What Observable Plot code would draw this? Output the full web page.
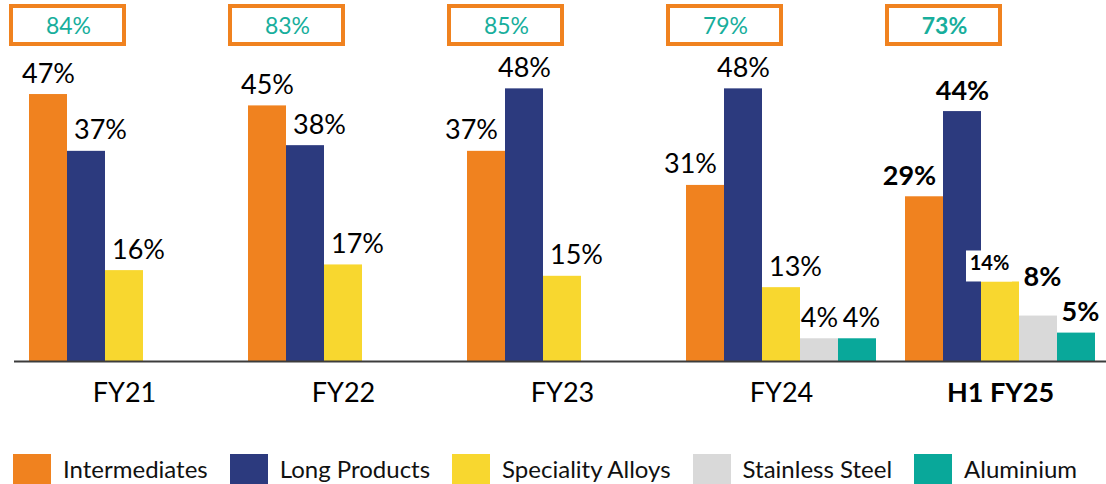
<!DOCTYPE html>
<html>
<head>
<meta charset="utf-8">
<script src="https://cdn.jsdelivr.net/npm/d3@7"></script>
<script src="https://cdn.jsdelivr.net/npm/@observablehq/plot@0.6"></script>
<style>
  body { margin: 0; background: #fff; font-family: Lato, sans-serif; }
  #legend { display: flex; align-items: center; margin: 34px 0 0 13px; font-size: 24px; line-height: 30px; color: #111; white-space: nowrap; }
  #legend .item { display: flex; align-items: center; margin-right: 22px; flex: none; }
  #legend .swatch { width: 38px; height: 30px; margin-right: 12px; flex: none; }
</style>
</head>
<body>
<div id="chart"></div>
<div id="legend"></div>
<script>
// Product mix by period (% of volume)
const groups = ["FY21", "FY22", "FY23", "FY24", "H1 FY25"];
const series = ["Intermediates", "Long Products", "Speciality Alloys", "Stainless Steel", "Aluminium"];
const intermediates    = [47, 45, 37, 31, 29];
const longProducts     = [37, 38, 48, 48, 44];
const specialityAlloys = [16, 17, 15, 13, 14];
const stainlessSteel   = [null, null, null, 4, 8];
const aluminium        = [null, null, null, 4, 5];
// share shown in the boxed callout above each period
const valueAddedShare  = [84, 83, 85, 79, 73];
const colors = ["#F0821F", "#2C3A7E", "#F8D72F", "#D9D9D9", "#09A89A"];
const highlight = "H1 FY25";

const seriesValues = [intermediates, longProducts, specialityAlloys, stainlessSteel, aluminium];
const rows = [];
series.forEach((s, i) => groups.forEach((g, j) => {
  const v = seriesValues[i][j];
  if (v != null) rows.push({group: g, series: s, value: v, index: i, period: j});
}));
const boxes = groups.map((g, j) => ({group: g, share: valueAddedShare[j]}));

const barW = 38;
const marks = [];

// bars, one mark per series, offset inside the period band
series.forEach((s, i) => {
  marks.push(Plot.barY(rows.filter(d => d.series === s), {
    x: "group", y: "value", fill: "series",
    insetLeft: i * barW, insetRight: (series.length - 1 - i) * barW
  }));
});

// label placement: nudge a label sideways when a neighbouring bar is taller
function labelStyle(d) {
  const i = d.index, j = d.period;
  const prev = i > 0 ? seriesValues[i - 1][j] : null;
  const next = i < series.length - 1 ? seriesValues[i + 1][j] : null;
  const bold = d.group === highlight;
  let shift = 0, dy = -12, size = 27, boxed = false;
  if (i === 0 && next != null && next > d.value) shift = -15;
  else if ((i === 1 || i === 2) && prev != null && prev > d.value) shift = 14;
  else if (i === 3) shift = bold ? 4 : 0;
  else if (i === 4) shift = 4;
  if (bold && i === 2) { shift = -11; size = 20; boxed = true; }
  if (bold && i === 3) dy = -30;
  return {dx: (i - 2) * barW + shift, dy, size, bold, boxed};
}
const labelled = rows.map(d => ({...d, style: labelStyle(d)}));
const styleGroups = d3.groups(labelled, d => JSON.stringify(d.style));

// white backing behind the boxed label
labelled.filter(d => d.style.boxed).forEach(d => {
  marks.push(Plot.barY([d], {
    x: "group", y1: "value", y2: "value", fill: "#fff",
    insetLeft: d.index * barW - 15, insetRight: (series.length - 1 - d.index) * barW + 7,
    insetTop: -31, insetBottom: 0
  }));
});

for (const [key, data] of styleGroups) {
  const st = JSON.parse(key);
  marks.push(Plot.text(data, {
    x: "group", y: "value", text: d => `${d.value}%`,
    dx: st.dx, dy: st.dy, lineAnchor: "bottom",
    fontSize: st.size, fontWeight: st.bold ? "bold" : "normal", fill: "#000"
  }));
}

// baseline
marks.push(Plot.ruleY([0], {stroke: "#3c3c3c", strokeWidth: 2}));

// period labels under the baseline
marks.push(Plot.text(groups.filter(g => g !== highlight), {
  x: d => d, text: d => d, frameAnchor: "bottom", lineAnchor: "top", dy: 21, fontSize: 27, fill: "#000"
}));
marks.push(Plot.text([highlight], {
  x: d => d, text: d => d, frameAnchor: "bottom", lineAnchor: "top", dy: 21, fontSize: 27, fontWeight: "bold", fill: "#000"
}));

// boxed callouts along the top
marks.push(Plot.cell(boxes, {
  x: "group", fill: "#fff", stroke: "#F0821F", strokeWidth: 4,
  insetLeft: -18, insetRight: 95, insetTop: 6, insetBottom: 317
}));
marks.push(Plot.text(boxes.filter(d => d.group !== highlight), {
  x: "group", text: d => `${d.share}%`, frameAnchor: "top", lineAnchor: "middle",
  dx: -56, dy: 26, fontSize: 23, fill: "#17AE9C"
}));
marks.push(Plot.text(boxes.filter(d => d.group === highlight), {
  x: "group", text: d => `${d.share}%`, frameAnchor: "top", lineAnchor: "middle",
  dx: -56, dy: 26, fontSize: 23, fontWeight: "bold", fill: "#17AE9C"
}));

const plot = Plot.plot({
  width: 1106,
  height: 420,
  marginTop: 0,
  marginLeft: 14,
  marginRight: 0,
  marginBottom: 59,
  style: {fontFamily: "Lato, sans-serif", background: "#fff", overflow: "visible"},
  x: {type: "band", domain: groups, range: [29, 1095], paddingInner: 29 / 219, paddingOuter: 0, axis: null},
  y: {domain: [0, 50], range: [361, 77], axis: null},
  color: {domain: series, range: colors},
  marks
});
document.getElementById("chart").appendChild(plot);

// legend built from the same colour scale
const color = plot.scale("color");
const legend = document.getElementById("legend");
color.domain.forEach((s, i) => {
  const item = document.createElement("div");
  item.className = "item";
  const sw = document.createElement("div");
  sw.className = "swatch";
  sw.style.background = color.range[i];
  const label = document.createElement("span");
  label.textContent = s;
  item.append(sw, label);
  legend.appendChild(item);
});
</script>
</body>
</html>
